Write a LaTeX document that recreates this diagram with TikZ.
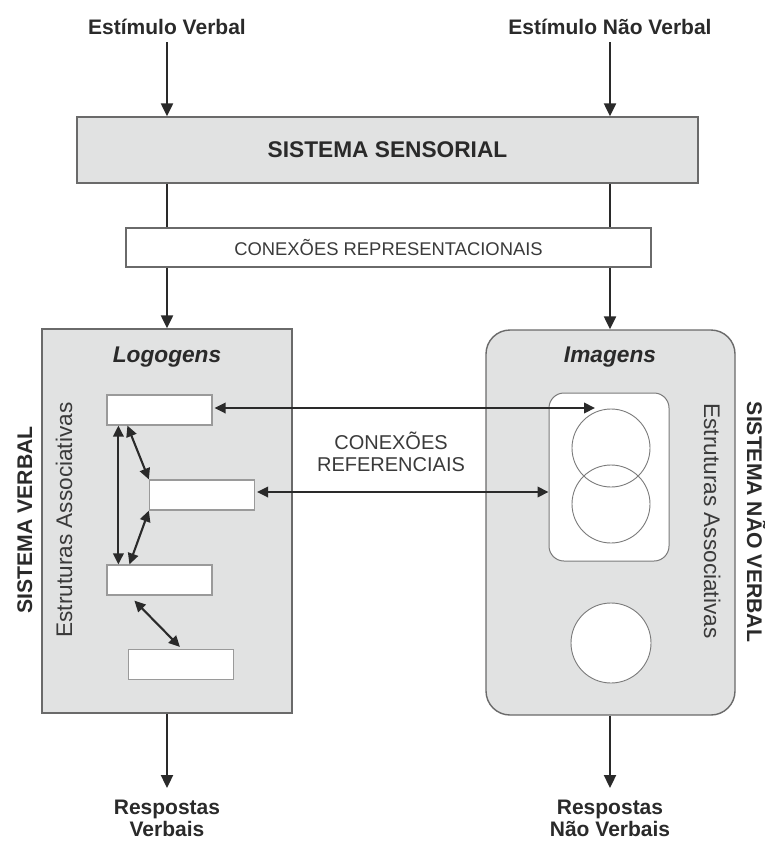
\documentclass[tikz,border=0pt]{standalone}
\usepackage{fontspec}
\setmainfont{Liberation Sans}
\usetikzlibrary{arrows.meta}

\definecolor{panelfill}{HTML}{E1E2E2}
\definecolor{paneledge}{HTML}{6A6A6A}
\definecolor{celledge}{HTML}{9A9A9A}
\definecolor{ringedge}{HTML}{7A7A7A}
\definecolor{ink}{HTML}{2A2A2A}
\definecolor{softink}{HTML}{3A3A3A}

\tikzset{
  panel/.style={draw=paneledge, line width=1.4pt, fill=panelfill, rectangle, inner sep=0pt},
  banner/.style={draw=paneledge, line width=1.2pt, fill=white, rectangle, inner sep=0pt},
  cell/.style={draw=celledge, line width=1.2pt, fill=white, rectangle, inner sep=0pt,
               minimum width=105pt, minimum height=30pt},
  ring/.style={draw=ringedge, line width=0.9pt, circle, inner sep=0pt},
  flow/.style={draw=ink, line width=2.3pt, -{Triangle[length=13pt,width=12pt]}},
  plainline/.style={draw=ink, line width=2.3pt},
  dflow/.style={draw=ink, line width=2.1pt,
                {Triangle[length=11pt,width=10.5pt]}-{Triangle[length=11pt,width=10.5pt]}},
  headtxt/.style={text=ink, font=\bfseries\fontsize{21}{22}\selectfont, inner sep=0pt},
  sidetxt/.style={text=softink, font=\fontsize{22.6}{26}\selectfont, inner sep=0pt},
  systxt/.style={text=ink, font=\bfseries\fontsize{21.2}{24}\selectfont, inner sep=0pt},
  titletxt/.style={text=ink, font=\bfseries\itshape\fontsize{22.7}{26}\selectfont, inner sep=0pt},
}

\begin{document}
\begin{tikzpicture}[x=1pt,y=-1pt]
\useasboundingbox (0,0) rectangle (765,841);

% the two vertical channels
\coordinate (colV) at (167,0);
\coordinate (colN) at (610,0);

% stimuli
\node[headtxt, anchor=base] (estV) at (167,34) {Estímulo Verbal};
\node[headtxt, anchor=base] (estN) at (610,34) {Estímulo Não Verbal};

% sensory system and representational connections
\node[panel, minimum width=621pt, minimum height=66pt,
      text=ink, font=\bfseries\fontsize{22.7}{26}\selectfont]
  (sens) at (387.5,150) {SISTEMA SENSORIAL};
\node[banner, minimum width=525pt, minimum height=39pt,
      text=softink, font=\fontsize{18.4}{22}\selectfont]
  (crep) at (388.5,247.5) {CONEXÕES REPRESENTACIONAIS};

% verbal system panel
\node[panel, minimum width=250pt, minimum height=384pt] (lbox) at (167,521) {};
\node[titletxt, anchor=base] (logo) at (167,362) {Logogens};
\node[sidetxt, rotate=90, anchor=base] (assocV) at (72,520) {Estruturas Associativas};
\node[systxt, rotate=90, anchor=base] (sysV) at (32,520) {SISTEMA VERBAL};

% logogen units
\node[cell] (r1) at (159.5,410) {};
\node[cell] (r2) at (202,495) {};
\node[cell] (r3) at (159.5,580) {};
\node[cell] (r4) at (181,664.5) {};

% non-verbal system panel
\node[panel, rounded corners=24pt, minimum width=249pt, minimum height=385pt] (rbox) at (610.5,522.5) {};
\node[titletxt, anchor=base] (imag) at (610,362) {Imagens};
\node[sidetxt, rotate=-90, anchor=base] (assocN) at (704,521) {Estruturas Associativas};
\node[systxt, rotate=-90, anchor=base] (sysN) at (747,522) {SISTEMA NÃO VERBAL};

% imagen units
\node[draw=ringedge, line width=1pt, fill=white, rounded corners=15pt, rectangle,
      minimum width=120pt, minimum height=168pt, inner sep=0pt] (imgset) at (609,477) {};
\node[ring, minimum size=78pt] (c1) at (611,448) {};
\node[ring, minimum size=78pt] (c2) at (611,504) {};
\node[ring, fill=white, minimum size=80pt] (c3) at (611,643) {};
\coordinate (imgTop) at (595,408);

% referential connections
\node[text=softink, font=\fontsize{20}{21.5}\selectfont, align=center, inner sep=0pt, anchor=north]
  (cref) at (391,432) {CONEXÕES\\REFERENCIAIS};

% responses
\node[headtxt, align=center, anchor=north] (respV) at (167,800) {Respostas\\Verbais};
\node[headtxt, align=center, anchor=north] (respN) at (610,800) {Respostas\\Não Verbais};

% vertical flow
\draw[flow, shorten <=8pt] (estV.south) -- (sens.north -| estV.south);
\draw[flow, shorten <=8pt] (estN.south) -- (sens.north -| estN.south);
\draw[plainline] (sens.south -| colV) -- (crep.north -| colV);
\draw[plainline] (sens.south -| colN) -- (crep.north -| colN);
\draw[flow] (crep.south -| colV) -- (lbox.north -| colV);
\draw[flow] (crep.south -| colN) -- (rbox.north -| colN);
\draw[flow, shorten >=12pt] (lbox.south -| colV) -- (respV.north);
\draw[flow, shorten >=12pt] (rbox.south -| colN) -- (respN.north);

% associative links between logogens
\draw[dflow] ([xshift=12pt]r1.south west) -- ([xshift=12pt]r3.north west);
\draw[dflow] ([xshift=21pt]r1.south west) -- (r2.north west);
\draw[dflow] (r2.south west) -- ([xshift=23pt]r3.north west);
\draw[dflow] ([xshift=28pt,yshift=-5pt]r3.south west) -- ([xshift=52pt,yshift=2pt]r4.north west);

% referential links
\draw[dflow, shorten <=2pt] ([yshift=2pt]r1.east) -- (imgTop);
\draw[dflow, shorten <=2pt] ([yshift=3pt]r2.east) -- ([yshift=3pt]r2.east -| imgset.west);
\end{tikzpicture}
\end{document}
